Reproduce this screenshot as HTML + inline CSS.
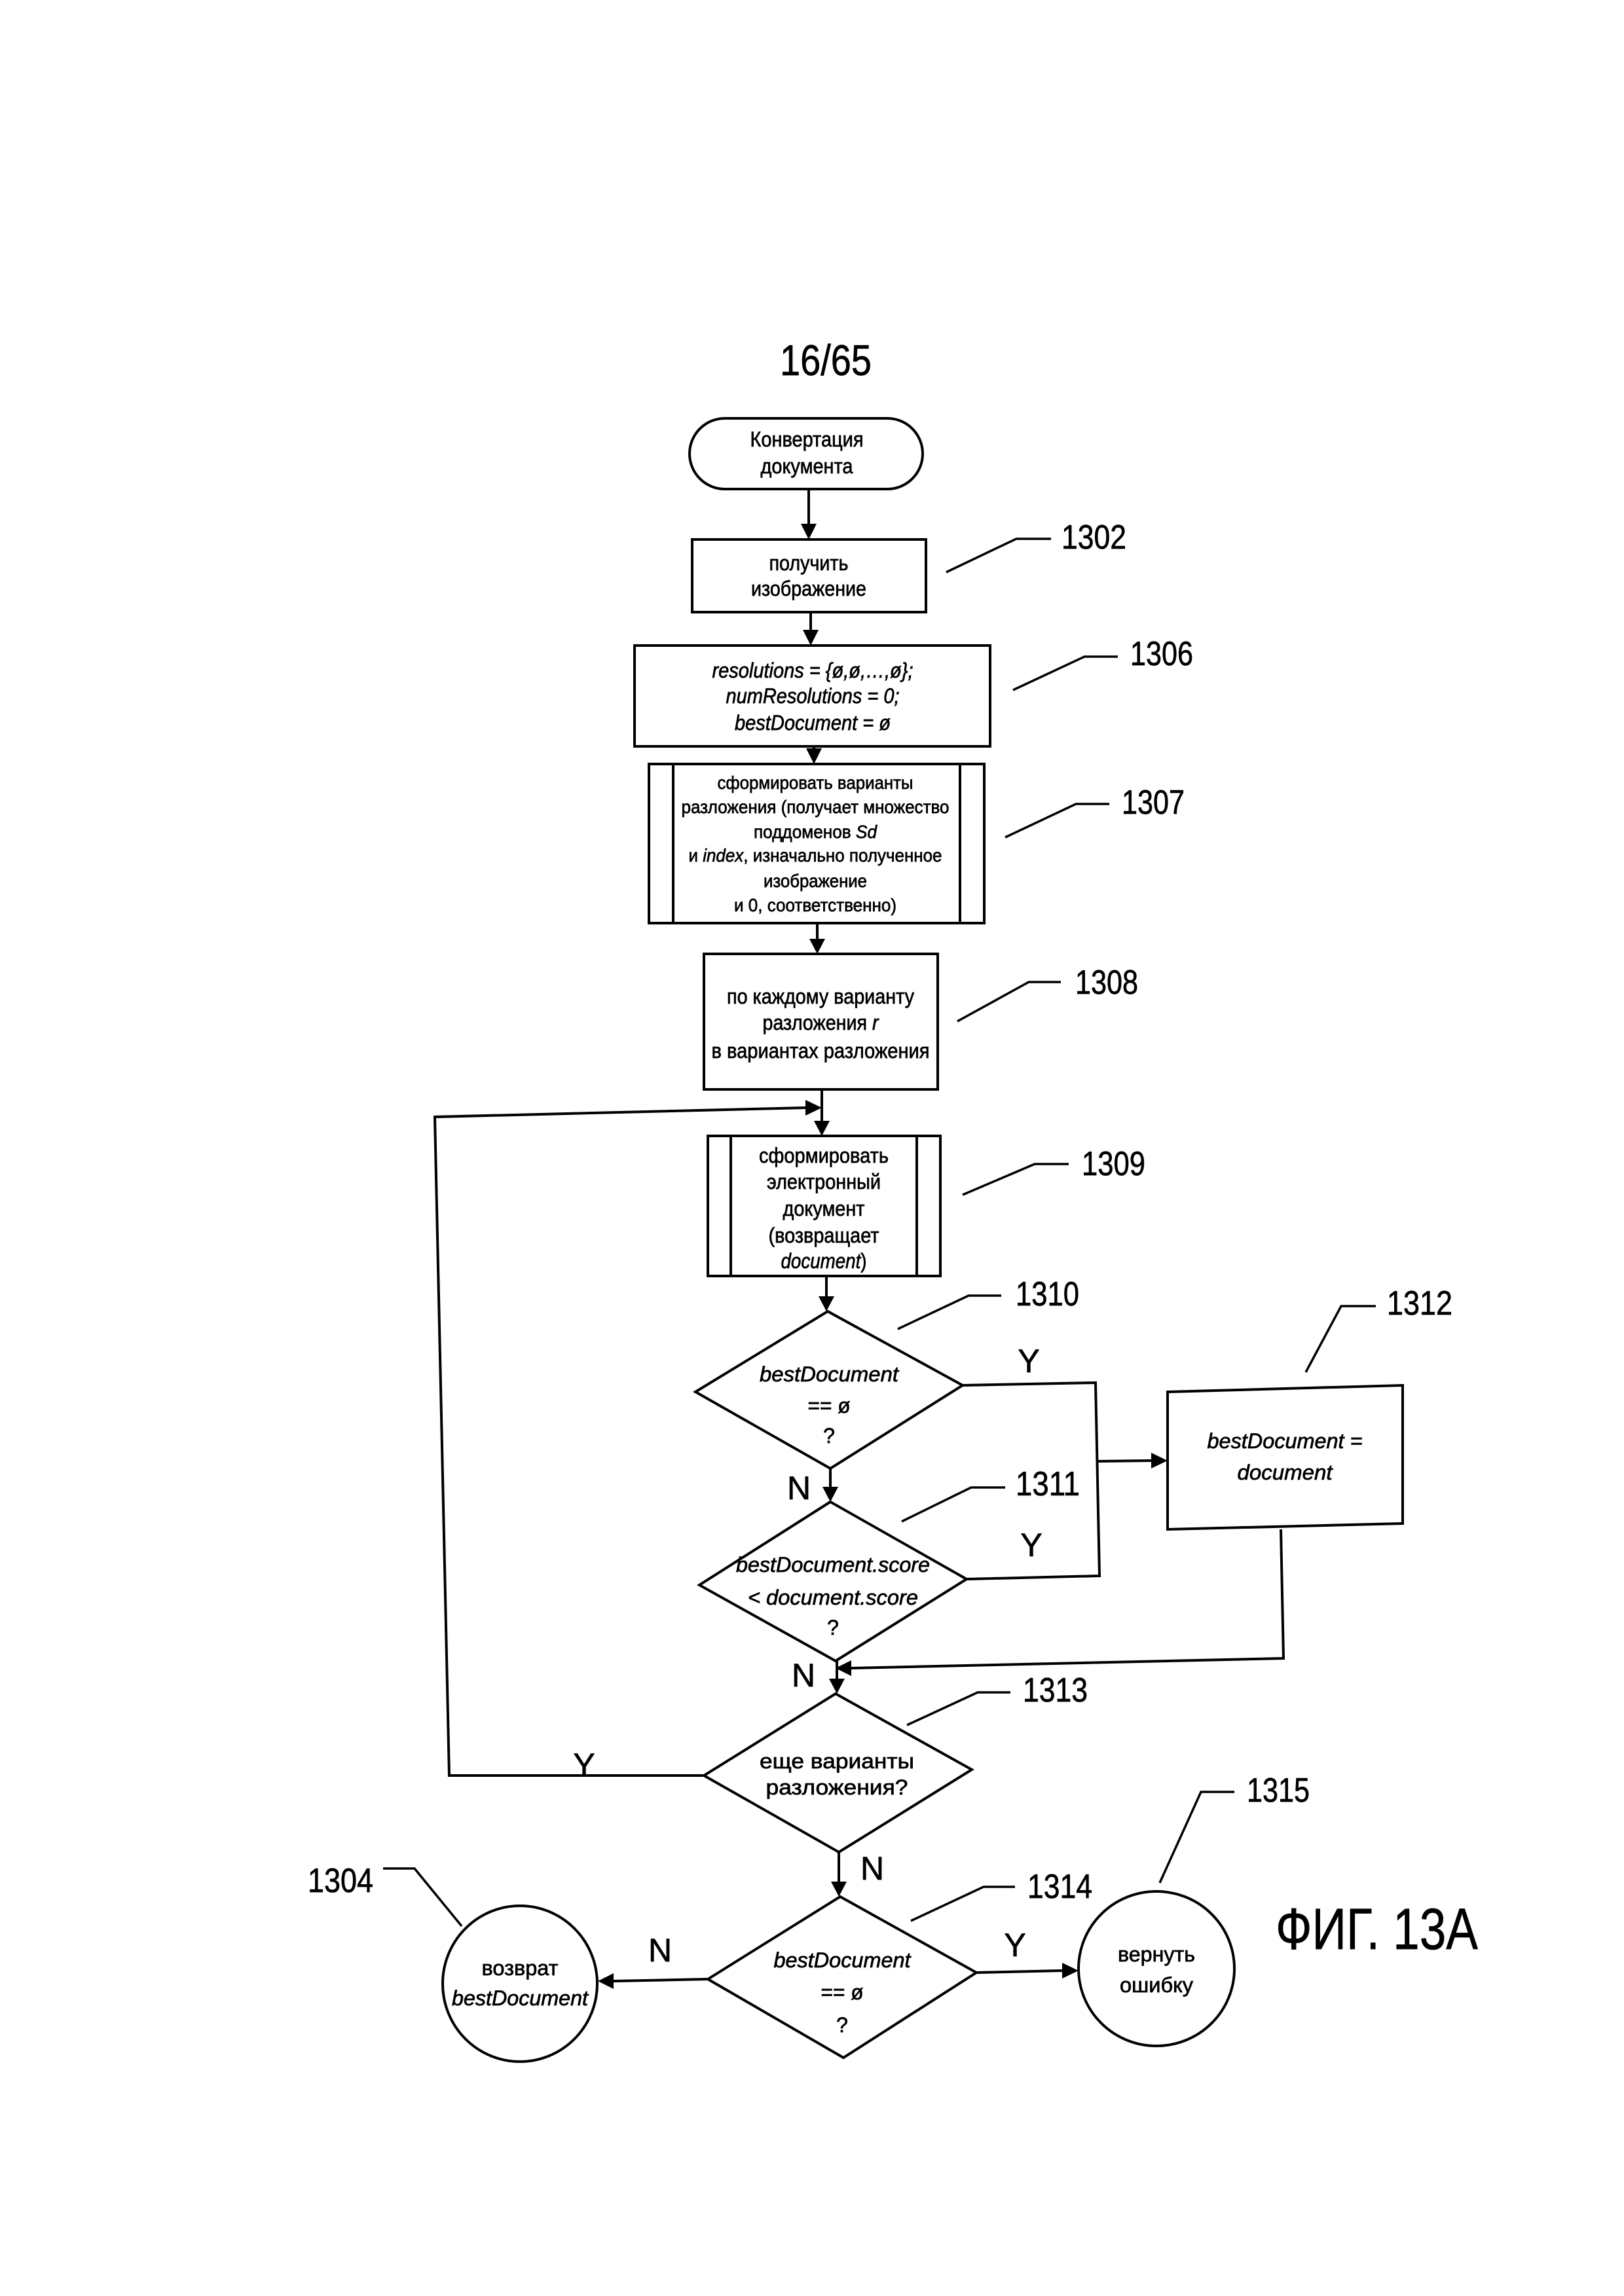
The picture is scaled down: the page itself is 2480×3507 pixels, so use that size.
<!DOCTYPE html>
<html><head><meta charset="utf-8"><style>
html,body{margin:0;padding:0;background:#fff}
svg{display:block}
text{font-family:"Liberation Sans","DejaVu Sans",sans-serif;fill:#000;stroke:#000;stroke-width:0.7px}
.t{font-size:32px;text-anchor:middle}
.s{font-size:28px;text-anchor:middle}
.i{font-style:italic}
.l{font-size:52px}
.yn{font-size:50px;text-anchor:middle}
</style></head><body>
<svg width="2480" height="3507" viewBox="0 0 2480 3507" xmlns="http://www.w3.org/2000/svg">
<g fill="none" stroke="#000" stroke-width="4">
<rect x="1053" y="639" width="356" height="108" rx="54" ry="54"/>
<line x1="1235" y1="747" x2="1235" y2="800"/>
<rect x="1057" y="824" width="357" height="111"/>
<line x1="1238" y1="935" x2="1238" y2="962"/>
<rect x="969" y="986" width="543" height="154"/>
<line x1="1243" y1="1140" x2="1243" y2="1145"/>
<rect x="991" y="1167" width="512" height="243"/>
<line x1="1028" y1="1167" x2="1028" y2="1410"/>
<line x1="1466" y1="1167" x2="1466" y2="1410"/>
<line x1="1248" y1="1410" x2="1248" y2="1434"/>
<rect x="1075" y="1457" width="357" height="207"/>
<line x1="1255" y1="1664" x2="1255" y2="1712"/>
<polyline points="1230,1692 664,1706 686,2712 1075,2712"/>
<rect x="1081" y="1735" width="355" height="214"/>
<line x1="1116" y1="1735" x2="1116" y2="1949"/>
<line x1="1400" y1="1735" x2="1400" y2="1949"/>
<line x1="1262" y1="1949" x2="1262" y2="1980"/>
<polygon points="1264,2003 1470,2116 1268,2243 1062,2126"/>
<line x1="1268" y1="2243" x2="1268" y2="2272"/>
<polyline points="1470,2116 1673,2112 1679,2407 1476,2412"/>
<line x1="1677" y1="2232" x2="1758" y2="2231"/>
<polygon points="1783,2126 2142,2116 2142,2327 1783,2336"/>
<polyline points="1956,2336 1960,2533 1300,2548"/>
<polygon points="1268,2294 1476,2412 1276,2537 1068,2421"/>
<line x1="1278" y1="2537" x2="1278" y2="2565"/>
<polygon points="1276,2587 1484,2703 1281,2829 1075,2712"/>
<line x1="1281" y1="2829" x2="1281" y2="2874"/>
<polygon points="1283,2897 1491,3013 1288,3143 1081,3023"/>
<line x1="1081" y1="3023" x2="937" y2="3026"/>
<line x1="1491" y1="3013" x2="1622" y2="3010"/>
<ellipse cx="794" cy="3030" rx="118" ry="119"/>
<ellipse cx="1766" cy="3007" rx="119" ry="118"/>
</g>
<g fill="#000">
<polygon points="1223,800 1247,800 1235,824"/>
<polygon points="1226,962 1250,962 1238,986"/>
<polygon points="1231,1143 1255,1143 1243,1167"/>
<polygon points="1236,1434 1260,1434 1248,1457"/>
<polygon points="1230,1680 1255,1692 1230,1704"/>
<polygon points="1243,1712 1267,1712 1255,1735"/>
<polygon points="1250,1980 1274,1980 1262,2003"/>
<polygon points="1256,2271 1280,2271 1268,2294"/>
<polygon points="1758,2219 1783,2231 1758,2243"/>
<polygon points="1300,2536 1276,2548 1300,2560"/>
<polygon points="1266,2564 1290,2564 1278,2587"/>
<polygon points="1269,2874 1293,2874 1281,2897"/>
<polygon points="937,3014 913,3026 937,3038"/>
<polygon points="1622,2998 1647,3010 1622,3022"/>
</g>
<g fill="none" stroke="#000" stroke-width="3.5">
<polyline points="1445,874 1552,823 1605,823"/>
<polyline points="1547,1054 1656,1003 1707,1003"/>
<polyline points="1535,1279 1643,1228 1694,1228"/>
<polyline points="1462,1560 1571,1500 1620,1500"/>
<polyline points="1470,1825 1580,1778 1632,1778"/>
<polyline points="1371,2030 1479,1979 1529,1979"/>
<polyline points="1994,2096 2048,1995 2101,1995"/>
<polyline points="1377,2324 1483,2272 1535,2272"/>
<polyline points="1385,2635 1493,2585 1543,2585"/>
<polyline points="1391,2934 1502,2882 1550,2882"/>
<polyline points="1771,2876 1834,2737 1885,2737"/>
<polyline points="705,2942 633,2854 585,2854"/>
</g>
<text x="1261" y="573" font-size="66" text-anchor="middle" textLength="140" lengthAdjust="spacingAndGlyphs">16/65</text>
<text class="t" x="1232" y="682" textLength="173" lengthAdjust="spacingAndGlyphs">Конвертация</text>
<text class="t" x="1232" y="723" textLength="141" lengthAdjust="spacingAndGlyphs">документа</text>
<text class="t" x="1235" y="871" textLength="121" lengthAdjust="spacingAndGlyphs">получить</text>
<text class="t" x="1235" y="910" textLength="176" lengthAdjust="spacingAndGlyphs">изображение</text>
<text class="t i" x="1241" y="1035" textLength="307" lengthAdjust="spacingAndGlyphs">resolutions = {ø,ø,…,ø};</text>
<text class="t i" x="1241" y="1074" textLength="265" lengthAdjust="spacingAndGlyphs">numResolutions = 0;</text>
<text class="t i" x="1241" y="1115" textLength="238" lengthAdjust="spacingAndGlyphs">bestDocument = ø</text>
<text class="s" x="1245" y="1205" textLength="299" lengthAdjust="spacingAndGlyphs">сформировать варианты</text>
<text class="s" x="1245" y="1242" textLength="409" lengthAdjust="spacingAndGlyphs">разложения (получает множество</text>
<text class="s" x="1245" y="1280" textLength="188" lengthAdjust="spacingAndGlyphs">поддоменов <tspan font-style="italic">Sd</tspan></text>
<text class="s" x="1245" y="1316" textLength="387" lengthAdjust="spacingAndGlyphs">и <tspan font-style="italic">index</tspan>, изначально полученное</text>
<text class="s" x="1245" y="1355" textLength="158" lengthAdjust="spacingAndGlyphs">изображение</text>
<text class="s" x="1245" y="1392" textLength="248" lengthAdjust="spacingAndGlyphs">и 0, соответственно)</text>
<text class="t" x="1253" y="1533" textLength="286" lengthAdjust="spacingAndGlyphs">по каждому варианту</text>
<text class="t" x="1253" y="1573" textLength="177" lengthAdjust="spacingAndGlyphs">разложения <tspan font-style="italic">r</tspan></text>
<text class="t" x="1253" y="1616" textLength="333" lengthAdjust="spacingAndGlyphs">в вариантах разложения</text>
<text class="t" x="1258" y="1776" textLength="198" lengthAdjust="spacingAndGlyphs">сформировать</text>
<text class="t" x="1258" y="1816" textLength="174" lengthAdjust="spacingAndGlyphs">электронный</text>
<text class="t" x="1258" y="1857" textLength="125" lengthAdjust="spacingAndGlyphs">документ</text>
<text class="t" x="1258" y="1898" textLength="169" lengthAdjust="spacingAndGlyphs">(возвращает</text>
<text class="t" x="1258" y="1937" textLength="131" lengthAdjust="spacingAndGlyphs"><tspan font-style="italic">document</tspan>)</text>
<text class="t i" x="1266" y="2110" textLength="212" lengthAdjust="spacingAndGlyphs">bestDocument</text>
<text class="t" x="1266" y="2158" textLength="65" lengthAdjust="spacingAndGlyphs">== ø</text>
<text class="t" x="1266" y="2204">?</text>
<text class="t i" x="1962" y="2212" textLength="237" lengthAdjust="spacingAndGlyphs">bestDocument =</text>
<text class="t i" x="1962" y="2260" textLength="145" lengthAdjust="spacingAndGlyphs">document</text>
<text class="t i" x="1272" y="2401" textLength="296" lengthAdjust="spacingAndGlyphs">bestDocument.score</text>
<text class="t i" x="1272" y="2451" textLength="260" lengthAdjust="spacingAndGlyphs">&lt; document.score</text>
<text class="t" x="1272" y="2497">?</text>
<text class="t" x="1278" y="2701" textLength="236" lengthAdjust="spacingAndGlyphs">еще варианты</text>
<text class="t" x="1278" y="2741" textLength="217" lengthAdjust="spacingAndGlyphs">разложения?</text>
<text class="t i" x="1286" y="3005" textLength="209" lengthAdjust="spacingAndGlyphs">bestDocument</text>
<text class="t" x="1286" y="3054" textLength="65" lengthAdjust="spacingAndGlyphs">== ø</text>
<text class="t" x="1286" y="3104">?</text>
<text class="t" x="794" y="3017" textLength="117" lengthAdjust="spacingAndGlyphs">возврат</text>
<text class="t i" x="794" y="3063" textLength="208" lengthAdjust="spacingAndGlyphs">bestDocument</text>
<text class="t" x="1766" y="2996" textLength="118" lengthAdjust="spacingAndGlyphs">вернуть</text>
<text class="t" x="1766" y="3043" textLength="112" lengthAdjust="spacingAndGlyphs">ошибку</text>
<text class="l" x="1621" y="838" textLength="99" lengthAdjust="spacingAndGlyphs">1302</text>
<text class="l" x="1726" y="1016" textLength="96" lengthAdjust="spacingAndGlyphs">1306</text>
<text class="l" x="1713" y="1243" textLength="96" lengthAdjust="spacingAndGlyphs">1307</text>
<text class="l" x="1642" y="1518" textLength="96" lengthAdjust="spacingAndGlyphs">1308</text>
<text class="l" x="1652" y="1795" textLength="97" lengthAdjust="spacingAndGlyphs">1309</text>
<text class="l" x="1551" y="1994" textLength="97" lengthAdjust="spacingAndGlyphs">1310</text>
<text class="l" x="2118" y="2008" textLength="100" lengthAdjust="spacingAndGlyphs">1312</text>
<text class="l" x="1551" y="2284" textLength="98" lengthAdjust="spacingAndGlyphs">1311</text>
<text class="l" x="1562" y="2599" textLength="99" lengthAdjust="spacingAndGlyphs">1313</text>
<text class="l" x="1569" y="2899" textLength="99" lengthAdjust="spacingAndGlyphs">1314</text>
<text class="l" x="1904" y="2752" textLength="96" lengthAdjust="spacingAndGlyphs">1315</text>
<text class="l" x="470" y="2890" textLength="100" lengthAdjust="spacingAndGlyphs">1304</text>
<text class="yn" x="1571" y="2096">Y</text>
<text class="yn" x="1220" y="2290">N</text>
<text class="yn" x="1575" y="2377">Y</text>
<text class="yn" x="1227" y="2576">N</text>
<text class="yn" x="892" y="2713">Y</text>
<text class="yn" x="1332" y="2871">N</text>
<text class="yn" x="1008" y="2996">N</text>
<text class="yn" x="1550" y="2988">Y</text>
<text x="1948" y="2977" font-size="89" textLength="309" lengthAdjust="spacingAndGlyphs">ФИГ. 13А</text>
</svg>
</body></html>
